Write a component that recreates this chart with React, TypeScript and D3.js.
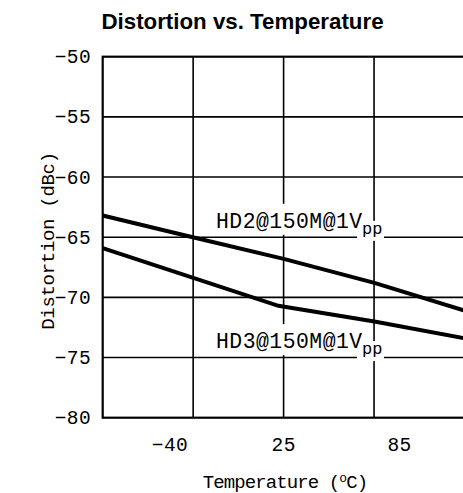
import React from "react";
import * as d3 from "d3";

const yTicks = [-50, -55, -60, -65, -70, -75, -80];
const xTickLabels = [-40, 25, 85];
const xScaleKnots = [-78, -40, 25, 85, 120];

const hd2Temps = [-78, -27, 25, 72, 120];
const hd2Values = [-63.2, -65.0, -66.8, -68.8, -71.1];

const hd3Temps = [-78, 22, 72, 120];
const hd3Values = [-65.9, -70.7, -72.0, -73.4];

const W = 463;
const H = 493;
const left = 102.7;
const right = 464.5;
const top = 56.7;
const bottom = 417.7;

const mono = "'Liberation Mono', 'DejaVu Sans Mono', monospace";

export default function App() {
  const x = d3
    .scaleLinear()
    .domain(xScaleKnots)
    .range([left, 170, 283.7, 399.5, right]);
  const y = d3.scaleLinear().domain([-80, -50]).range([bottom, top]);

  const colW = (right - left) / 4;
  const vGrid = [1, 2, 3].map((i) => left + i * colW);

  const line = d3
    .line<[number, number]>()
    .x((d) => x(d[0]))
    .y((d) => y(d[1]));

  const hd2 = hd2Temps.map((t, i) => [t, hd2Values[i]] as [number, number]);
  const hd3 = hd3Temps.map((t, i) => [t, hd3Values[i]] as [number, number]);

  const labels = [
    { name: "HD2@150M@1V", ref: -65 },
    { name: "HD3@150M@1V", ref: -75 },
  ];

  return (
    <svg
      width={W}
      height={H}
      style={{ position: "absolute", left: 0, top: 0, background: "#fff" }}
    >
      <text
        x={242.5}
        y={29}
        textAnchor="middle"
        fontFamily="'Liberation Sans', Arial, sans-serif"
        fontWeight="bold"
        fontSize={22.3}
      >
        Distortion vs. Temperature
      </text>

      {/* horizontal grid */}
      {yTicks.slice(1, -1).map((v) => (
        <line
          key={"h" + v}
          x1={left}
          x2={right}
          y1={y(v)}
          y2={y(v)}
          stroke="#000"
          strokeWidth={1.6}
        />
      ))}
      {vGrid.map((gx, i) => (
        <line
          key={"v" + i}
          x1={gx}
          x2={gx}
          y1={top}
          y2={bottom}
          stroke="#000"
          strokeWidth={1.6}
        />
      ))}

      {/* labels with white background */}
      {labels.map((l) => {
        const base = y(l.ref) - 9.4;
        return (
          <g key={l.name}>
            <rect x={214} y={base - 24} width={152} height={31} fill="#fff" />
            <rect x={357} y={base - 7} width={27} height={20} fill="#fff" />
            <text
              x={216}
              y={base}
              fontFamily={mono}
              fontSize={21.4}
              letterSpacing={0.5}
            >
              {l.name}
            </text>
            <text
              x={362}
              y={base + 6}
              fontFamily={mono}
              fontSize={17}
              letterSpacing={0}
            >
              pp
            </text>
          </g>
        );
      })}

      {/* data lines */}
      <g clipPath="url(#clip)">
        <path d={line(hd2) || ""} fill="none" stroke="#000" strokeWidth={4} />
        <path d={line(hd3) || ""} fill="none" stroke="#000" strokeWidth={4} />
      </g>
      <defs>
        <clipPath id="clip">
          <rect x={left} y={top} width={right - left} height={bottom - top} />
        </clipPath>
      </defs>

      {/* border */}
      <rect
        x={left}
        y={top}
        width={right - left}
        height={bottom - top}
        fill="none"
        stroke="#000"
        strokeWidth={2.2}
      />

      {/* y tick labels */}
      {yTicks.map((v) => (
        <text
          key={"yt" + v}
          x={91}
          y={y(v)}
          dy="0.34em"
          textAnchor="end"
          fontFamily={mono}
          fontSize={19.5}
          letterSpacing={0.4}
        >
          {"\u2212" + Math.abs(v)}
        </text>
      ))}

      {/* x tick labels */}
      {xTickLabels.map((v) => (
        <text
          key={"xt" + v}
          x={x(v)}
          y={450.5}
          textAnchor="middle"
          fontFamily={mono}
          fontSize={19.5}
          letterSpacing={0.4}
        >
          {v < 0 ? "\u2212" + Math.abs(v) : String(v)}
        </text>
      ))}

      <text
        x={285}
        y={488}
        textAnchor="middle"
        fontFamily={mono}
        fontSize={19}
        letterSpacing={-0.9}
      >
        Temperature (
        <tspan fontSize={13} dy={-6}>
          o
        </tspan>
        <tspan dy={6}>C)</tspan>
      </text>

      <text
        transform={`translate(54, 241) rotate(-90)`}
        textAnchor="middle"
        fontFamily={mono}
        fontSize={19}
        letterSpacing={-0.3}
      >
        Distortion (dBc)
      </text>
    </svg>
  );
}
